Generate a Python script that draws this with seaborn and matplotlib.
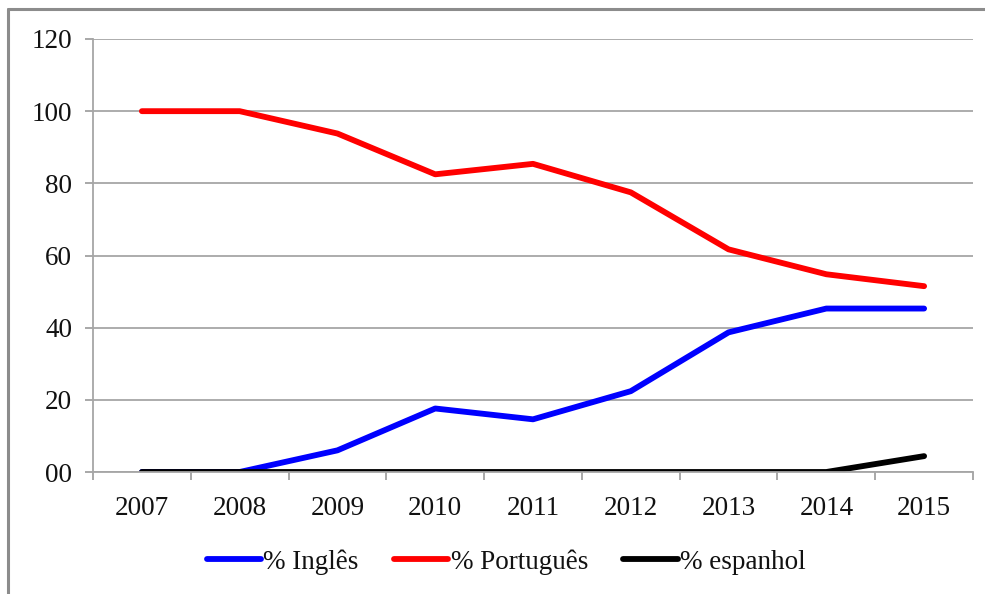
import pandas as pd
import seaborn as sns
import matplotlib.pyplot as plt
from matplotlib.lines import Line2D
from matplotlib.ticker import FixedLocator

# values
anos = ['2007', '2008', '2009', '2010', '2011', '2012', '2013', '2014', '2015']
ingles = [0, 0, 6, 17.6, 14.6, 22.4, 38.7, 45.3, 45.3]
portugues = [100, 100, 93.8, 82.5, 85.4, 77.5, 61.7, 54.8, 51.5]
espanhol = [0, 0, 0, 0, 0, 0, 0, 0, 4.4]
series = ['% Inglês', '% Português', '% espanhol']
cores = ['#0000ff', '#ff0000', '#000000']
y_ticks = [0, 20, 40, 60, 80, 100, 120]
y_labels = ['00', '20', '40', '60', '80', '100', '120']

df = pd.DataFrame({
    'pos': list(range(len(anos))) * 3,
    'valor': ingles + portugues + espanhol,
    'serie': [s for s in series for _ in anos],
})

sns.set_style('white')
plt.rcParams['font.family'] = ['Liberation Serif', 'DejaVu Serif']

fig = plt.figure(figsize=(9.85, 5.94), dpi=100)
ax = fig.add_axes([93 / 985, 1 - 472 / 594, 880 / 985, 433 / 594])

sns.lineplot(data=df, x='pos', y='valor', hue='serie', hue_order=series,
             palette=cores, linewidth=4.2, ax=ax)
for ln in ax.get_lines():
    ln.set_solid_capstyle('round')
    ln.set_solid_joinstyle('round')

ax.set_xlim(-0.5, len(anos) - 0.5)
ax.set_ylim(0, 120)
ax.set_xlabel('')
ax.set_ylabel('')

# category labels in the middle, tick marks between categories
ax.set_xticks(range(len(anos)))
ax.set_xticklabels(anos)
ax.xaxis.set_minor_locator(FixedLocator([i - 0.5 for i in range(len(anos) + 1)]))
ax.tick_params(axis='x', which='major', length=0, pad=17, labelsize=19.5, colors='#111111')
ax.tick_params(axis='x', which='minor', bottom=True, length=6, width=1.2, color='#9a9a9a')

ax.set_yticks(y_ticks)
ax.set_yticklabels(y_labels)
ax.tick_params(axis='y', left=True, length=6, width=1.2, color='#9a9a9a', pad=9,
               labelsize=19.5, labelcolor='#111111')

ax.grid(axis='y', color='#a6a6a6', linewidth=1.3)
ax.set_axisbelow(True)
for side in ['top', 'right']:
    ax.spines[side].set_visible(False)
for side in ['left', 'bottom']:
    ax.spines[side].set_color('#a6a6a6')
    ax.spines[side].set_linewidth(1.3)

sns.move_legend(ax, 'center', bbox_to_anchor=(0.514, 0.054),
                bbox_transform=fig.transFigure, ncol=3, frameon=False, title=None,
                fontsize=19.5, handlelength=2.0, handletextpad=0.1, columnspacing=1.3)
leg = ax.get_legend()
for h in leg.legend_handles:
    h.set_linewidth(4.2)
    h.set_solid_capstyle('round')
for t in leg.get_texts():
    t.set_color('#111111')

# grey frame visible on the left and top of the picture
fig.add_artist(Line2D([8 / 985, 8 / 985], [0, 1 - 9 / 594], color='#8c8c8c', linewidth=2.2,
                      transform=fig.transFigure))
fig.add_artist(Line2D([8 / 985, 1], [1 - 9 / 594, 1 - 9 / 594], color='#8c8c8c', linewidth=2.2,
                      transform=fig.transFigure))

fig.savefig('out.png', dpi=100)
